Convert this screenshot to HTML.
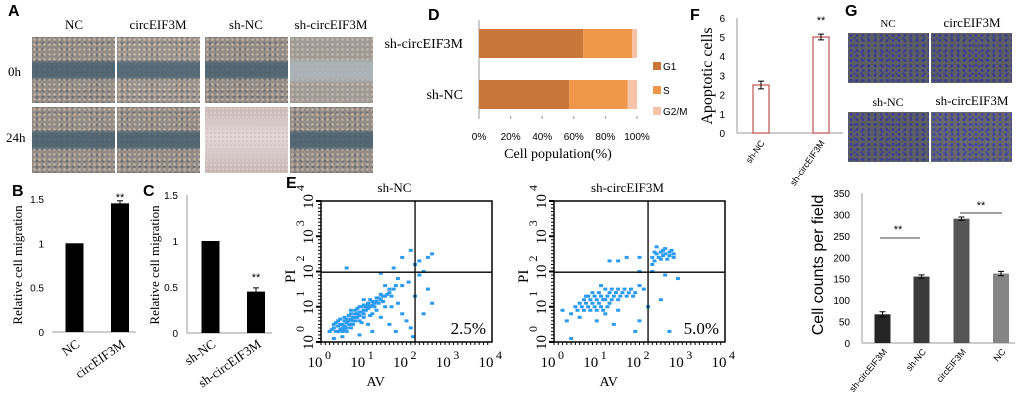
<!DOCTYPE html>
<html><head><meta charset="utf-8"><style>
body{margin:0;background:#fff;width:1020px;height:415px;overflow:hidden;position:relative;font-family:"Liberation Serif",serif}
.ph{position:absolute}
.w{background:
 linear-gradient(180deg,rgba(0,0,0,0) 0%,rgba(0,0,0,0) 34%,rgba(75,98,112,.9) 40%,rgba(75,98,112,.9) 60%,rgba(0,0,0,0) 66%),
 radial-gradient(circle,#c4b4a4 1px,transparent 1.6px) 0 0/5px 5px,
 radial-gradient(circle,#6e7074 1.2px,transparent 1.8px) 2px 3px/6px 6px,
 #948c86;}
.w2{background:
 radial-gradient(circle,#d8c8c6 1px,transparent 1.5px) 0 0/4px 4px,
 linear-gradient(180deg,#c8b6b4 0%,#e2d8dc 45%,#dcd0d4 60%,#c6b4b2 100%);}
.w3{background:
 linear-gradient(180deg,rgba(0,0,0,0) 0%,rgba(0,0,0,0) 30%,rgba(172,180,184,.92) 40%,rgba(172,180,184,.92) 62%,rgba(0,0,0,0) 72%),
 radial-gradient(circle,#c2b8ae 1px,transparent 1.6px) 0 0/5px 5px,
 #a09a94;}
.g{background:
 radial-gradient(circle,#3c3e8c 1.2px,transparent 1.8px) 0 0/6px 5px,
 radial-gradient(circle,#44468a 1px,transparent 1.6px) 3px 2px/7px 7px,
 #5d5f64;}
</style></head><body>
<svg id="s" width="1020" height="415" style="position:absolute;left:0;top:0"></svg>
<div class="ph w" style="left:32px;top:37px;width:83px;height:66px"></div>
<div class="ph w" style="left:117px;top:37px;width:83px;height:66px;filter:brightness(1.05)"></div>
<div class="ph w" style="left:205px;top:37px;width:83px;height:66px"></div>
<div class="ph w3" style="left:290px;top:37px;width:83px;height:66px"></div>
<div class="ph w" style="left:32px;top:107px;width:83px;height:66px"></div>
<div class="ph w" style="left:117px;top:107px;width:83px;height:66px"></div>
<div class="ph w2" style="left:205px;top:107px;width:83px;height:66px"></div>
<div class="ph w" style="left:290px;top:107px;width:83px;height:66px"></div>
<div class="ph g" style="left:848px;top:33px;width:81px;height:50px"></div>
<div class="ph g" style="left:931px;top:33px;width:81px;height:50px"></div>
<div class="ph g" style="left:848px;top:112px;width:81px;height:50px"></div>
<div class="ph g" style="left:931px;top:112px;width:81px;height:50px;filter:brightness(1.1)"></div>
<script>
// ---- data ----
const bCats=["NC","circEIF3M"], bVals=[1,1.45], bErr=[0,0.03];
const cCats=["sh-NC","sh-circEIF3M"], cVals=[1,0.45], cErr=[0,0.04];
const dCats=["sh-circEIF3M","sh-NC"], dG1=[66,57], dS=[31,37], dG2M=[3,6];
const fCats=["sh-NC","sh-circEIF3M"], fVals=[2.5,5.0], fErr=[0.2,0.15];
const hCats=["sh-circEIF3M","sh-NC","circEIF3M","NC"], hVals=[67,155,290,162], hErr=[6,4,4,5];
const eLeft=[[0.2,0.3],[0.3,0.4],[0.35,0.3],[0.4,0.45],[0.45,0.35],[0.5,0.5],[0.5,0.3],[0.55,0.6],[0.6,0.55],[0.6,0.4],[0.65,0.75],[0.7,0.65],[0.7,0.5],[0.75,0.7],[0.75,0.5],[0.8,0.8],[0.8,0.6],[0.85,0.7],[0.9,0.85],[0.9,0.6],[0.95,1.0],[1.0,0.9],[1.0,0.7],[1.05,1.0],[1.1,0.95],[1.1,1.1],[1.15,1.2],[1.2,1.05],[1.25,1.1],[1.3,1.15],[1.3,0.9],[1.35,1.25],[1.4,1.2],[1.45,1.3],[1.5,1.3],[1.5,1.0],[1.6,1.4],[1.7,1.5],[0.35,0.55],[0.55,0.45],[0.65,0.5],[0.85,0.95],[1.2,0.8],[1.8,1.1],[1.9,0.8],[2.0,0.6],[2.1,0.4],[1.6,0.5],[1.2,0.3],[0.9,0.2],[0.3,0.1],[1.5,1.6],[1.8,1.8],[1.7,2.1],[2.2,2.2],[2.3,2.3],[2.5,2.4],[2.6,2.5],[2.4,2.0],[2.3,1.9],[2.5,1.5],[2.6,1.1],[2.4,0.8],[1.4,1.95],[1.9,2.4],[2.1,2.6],[0.6,2.1],[2.2,1.3],[1.0,1.2],[0.7,0.9],[1.9,1.6],[2.05,1.7],[1.75,0.3],[2.15,0.15],[0.5,0.15],[1.1,0.5],
[0.25,0.35],[0.3,0.5],[0.4,0.3],[0.4,0.6],[0.45,0.5],[0.5,0.4],[0.55,0.35],[0.55,0.7],[0.6,0.65],[0.65,0.6],[0.7,0.8],[0.7,0.4],[0.75,0.6],[0.8,0.7],[0.8,0.9],[0.85,0.8],[0.9,0.75],[0.9,1.0],[0.95,0.85],[1.0,1.05],[1.0,0.8],[1.05,0.9],[1.1,1.05],[1.15,1.0],[1.2,1.15],[1.25,1.0],[1.3,1.25],[1.35,1.1],[1.4,1.35],[1.45,1.15],[1.55,1.35],[1.6,1.5],[1.65,1.3],[1.75,1.6],[0.45,0.65],[0.6,0.3],[0.95,0.55],[1.15,0.75],[1.4,0.7],[1.65,1.0]];
const eRight=[[0.4,0.8],[0.5,1.0],[0.6,1.1],[0.7,0.9],[0.7,1.2],[0.8,1.0],[0.8,1.3],[0.9,1.1],[0.9,1.4],[1.0,1.2],[1.0,0.9],[1.1,1.3],[1.1,1.0],[1.2,1.2],[1.2,1.5],[1.3,1.1],[1.3,1.4],[1.4,1.3],[1.5,1.2],[1.5,1.5],[1.6,1.4],[1.7,1.3],[1.8,1.5],[1.9,1.4],[2.0,1.6],[2.1,1.5],[0.6,0.7],[1.0,0.6],[1.2,0.8],[0.3,0.6],[0.2,0.9],[1.5,0.9],[1.4,0.5],[2.0,0.6],[2.2,1.0],[2.5,1.2],[1.9,0.3],[0.4,0.1],[2.3,2.4],[2.4,2.5],[2.5,2.35],[2.6,2.5],[2.7,2.45],[2.8,2.4],[2.4,2.7],[2.6,2.65],[2.3,2.2],[2.75,2.6],[2.5,2.55],[1.5,2.3],[1.7,2.4],[2.0,2.4],[1.3,2.3],[2.3,2.0],[2.6,1.9],[2.9,1.8],[2.0,2.0],[2.7,0.3],
[0.55,0.9],[0.65,1.0],[0.75,1.1],[0.85,1.2],[0.85,0.9],[0.95,1.3],[0.95,1.0],[1.05,1.1],[1.05,1.4],[1.15,1.2],[1.15,0.9],[1.25,1.3],[1.25,1.0],[1.35,1.2],[1.35,1.5],[1.45,1.4],[1.55,1.3],[1.65,1.5],[1.75,1.4],[1.85,1.3],[0.75,1.3],[1.1,1.6],[2.35,2.55],[2.45,2.4],[2.55,2.45],[2.65,2.35],[2.7,2.55],[2.35,2.3],[2.55,2.6],[2.8,2.5]];
// ---- helpers ----
const S=document.getElementById('s'),NS='http://www.w3.org/2000/svg';
function el(t,a,txt){const e=document.createElementNS(NS,t);for(const k in a)e.setAttribute(k,a[k]);if(txt!==undefined)e.textContent=txt;S.appendChild(e);return e;}
const SANS='"Liberation Sans",sans-serif',SER='"Liberation Serif",serif';
function label(x,y,t,name){const e=el('text',{x,y,'font-family':SANS,'font-weight':'bold','font-size':16},t);}
function txt(x,y,t,o){const a=Object.assign({x,y,'font-family':SER,'font-size':13},o||{});const e=el('text',a,t);return e;}
function rot(x,y,t,ang,o){const a=Object.assign({x:0,y:0,'font-family':SER,'font-size':13,transform:`translate(${x},${y}) rotate(${ang})`},o||{});const e=el('text',a,t);return e;}
function errbar(cx,y1,y2,c){const e=el('path',{d:`M${cx-3},${y1}H${cx+3}M${cx},${y1}V${y2}M${cx-3},${y2}H${cx+3}`,stroke:c||'#000','stroke-width':1,fill:'none'});}
// ---- A ----
label(8,16,'A','panel-a-label');
['NC','circEIF3M','sh-NC','sh-circEIF3M'].forEach((t,i)=>txt([74,158,246,331][i],29,t,{'text-anchor':'middle'}));
txt(8,76,'0h');txt(6,142,'24h');
// ---- B ----
label(12,196,'B','panel-b-label');
const bY=v=>332-v*88.7;
[0,0.5,1,1.5].forEach(v=>el('text',{x:44,y:bY(v)+4,'font-family':SANS,'font-size':10,'text-anchor':'end'},String(v)));
el('line',{x1:52,y1:332,x2:136,y2:332,stroke:'#999'});
const bX=[74.5,120];
bCats.forEach((c,i)=>{const r=el('rect',{x:bX[i]-9,y:bY(bVals[i]),width:18,height:332-bY(bVals[i]),fill:'#000'});
 if(bErr[i])errbar(bX[i],bY(bVals[i]+bErr[i]),bY(bVals[i]-bErr[i]));
 rot(bX[i]+6,346,c,-35,{'text-anchor':'end'});});
txt(bX[1],201,'**',{'text-anchor':'middle','font-size':11,'font-family':SANS});
rot(22,265,'Relative cell migration',-90,{'text-anchor':'middle'});
// ---- C ----
label(143,196,'C','panel-c-label');
const cY=v=>333-v*92;
[0,0.5,1,1.5].forEach(v=>el('text',{x:178,y:cY(v)+4,'font-family':SANS,'font-size':10,'text-anchor':'end'},String(v)));
el('line',{x1:187,y1:195,x2:187,y2:333,stroke:'#999'});el('line',{x1:187,y1:333,x2:272,y2:333,stroke:'#999'});
const cX=[210.5,256];
cCats.forEach((c,i)=>{const r=el('rect',{x:cX[i]-9,y:cY(cVals[i]),width:18,height:333-cY(cVals[i]),fill:'#000'});
 if(cErr[i])errbar(cX[i],cY(cVals[i]+cErr[i]),cY(cVals[i]-cErr[i]));
 rot(cX[i]+6,346,c,-35,{'text-anchor':'end'});});
txt(cX[1],281,'**',{'text-anchor':'middle','font-size':11,'font-family':SANS});
rot(159,265,'Relative cell migration',-90,{'text-anchor':'middle'});
// ---- D ----
label(428,20,'D','panel-d-label');
const dX=p=>479+p*1.58, dYs=[29,80];
el('line',{x1:479,y1:20,x2:479,y2:118,stroke:'#999'});
for(let p=0;p<=100;p+=20){el('line',{x1:dX(p),y1:116,x2:dX(p),y2:119,stroke:'#999'});el('text',{x:dX(p),y:140,'font-family':SANS,'font-size':10,'text-anchor':'middle'},p+'%');}
dCats.forEach((c,i)=>{let acc=0;[[dG1,'#c8763a'],[dS,'#f0964a'],[dG2M,'#f6c3a6']].forEach(([arr,col],j)=>{const r=el('rect',{x:dX(acc),y:dYs[i],width:arr[i]*1.58,height:29,fill:col});acc+=arr[i];});
 txt(463,dYs[i]+19,c,{'text-anchor':'end','font-size':14});});
[['G1','#c8763a',69],['S','#f0964a',93],['G2/M','#f6c3a6',114]].forEach(([t,c,y])=>{el('rect',{x:653,y:y-7,width:8,height:8,fill:c});el('text',{x:663,y:y+1,'font-family':SANS,'font-size':10},t);});
txt(558,158,'Cell population(%)',{'text-anchor':'middle','font-size':14});
// ---- F ----
label(690,20,'F','panel-f-label');
const fY=v=>133-v*19.2;
for(let v=0;v<=6;v++)el('text',{x:725,y:fY(v)+4,'font-family':SANS,'font-size':10,'text-anchor':'end'},String(v));
el('line',{x1:737,y1:18,x2:737,y2:133,stroke:'#999'});el('line',{x1:737,y1:133,x2:843,y2:133,stroke:'#999'});
const fX=[761,821];
fCats.forEach((c,i)=>{const r=el('rect',{x:fX[i]-8,y:fY(fVals[i]),width:16,height:133-fY(fVals[i]),fill:'#fff',stroke:'#c0504d','stroke-width':1.2});
 errbar(fX[i],fY(fVals[i]+fErr[i]),fY(fVals[i]-fErr[i]));
 rot(fX[i]+4,143,c,-55,{'text-anchor':'end','font-size':9,'font-family':SANS});});
txt(fX[1],24,'**',{'text-anchor':'middle','font-size':11,'font-family':SANS});
rot(712,76,'Apoptotic cells',-90,{'text-anchor':'middle','font-size':16});
// ---- G ----
label(845,16,'G','panel-g-label');
txt(888,27,'NC',{'text-anchor':'middle','font-size':11});txt(972,27,'circEIF3M',{'text-anchor':'middle','font-size':13});
txt(888,106,'sh-NC',{'text-anchor':'middle','font-size':12});txt(972,105,'sh-circEIF3M',{'text-anchor':'middle','font-size':13});
// ---- H ----
const hY=v=>343-v*150/350;
for(let v=0;v<=350;v+=50)el('text',{x:850,y:hY(v)+4,'font-family':SANS,'font-size':10,'text-anchor':'end'},String(v));
el('line',{x1:862,y1:193,x2:862,y2:343,stroke:'#999'});el('line',{x1:862,y1:343,x2:1015,y2:343,stroke:'#999'});
const hX=[882.5,921.5,961.5,1001], hCol=['#252525','#3b3b3b','#555','#858585'];
hCats.forEach((c,i)=>{const r=el('rect',{x:hX[i]-8,y:hY(hVals[i]),width:16,height:343-hY(hVals[i]),fill:hCol[i]});
 errbar(hX[i],hY(hVals[i]+hErr[i]),hY(hVals[i]-hErr[i]));
 rot(hX[i]+5,352,c,-50,{'text-anchor':'end','font-size':9,'font-family':SANS});});
el('line',{x1:880,y1:238,x2:920,y2:238,stroke:'#444'});el('line',{x1:960,y1:213,x2:1002,y2:213,stroke:'#444'});
txt(898,233,'**',{'text-anchor':'middle','font-size':11,'font-family':SANS});txt(981,209,'**',{'text-anchor':'middle','font-size':11,'font-family':SANS});
rot(823,265,'Cell counts per field',-90,{'text-anchor':'middle','font-size':16,'font-family':SANS});
// ---- E ----
label(286,188,'E','panel-e-label');
function flow(x0,pts,title,pct,name){
 const w=171,h=141,y0=201,px=l=>x0+l*w/4,py=l=>y0+h-l*h/4;
 const g=el('rect',{x:x0,y:y0,width:w,height:h,fill:'none',stroke:'#000','stroke-width':1.5});
 pts.forEach(p=>{const r=el('rect',{x:px(p[0])-2,y:py(p[1])-1.5,width:4,height:3,fill:'#2a9bf0'});});
 el('line',{x1:px(2.2),y1:y0,x2:px(2.2),y2:y0+h,stroke:'#000','stroke-width':1.3});
 el('line',{x1:x0,y1:py(1.98),x2:x0+w,y2:py(1.98),stroke:'#000','stroke-width':1.3});
 for(let i=0;i<=4;i++){
  el('text',{x:px(i)-6,y:367,'font-family':SER,'font-size':15,'text-anchor':'middle'},'10');
  el('text',{x:px(i)+4,y:359,'font-family':SER,'font-size':12},String(i));
  rot(x0-8,py(i)+8,'10',-90,{'font-size':15});rot(x0-17,py(i)-10,String(i),-90,{'font-size':12});
  el('line',{x1:x0-5,y1:py(i),x2:x0,y2:py(i),stroke:'#000','stroke-width':2});
 }
 for(let k=0;k<40;k++){el('line',{x1:x0+k*w/40,y1:y0+h,x2:x0+k*w/40,y2:y0+h+3,stroke:'#000'});el('line',{x1:x0-3,y1:y0+k*h/40,x2:x0,y2:y0+k*h/40,stroke:'#000'});}
 txt(x0+w/2-40,386,'AV',{'font-size':14});
 rot(x0-26,y0+82,'PI',-90,{'font-size':15});
 txt(x0+w/2-12,192,title,{'text-anchor':'middle','font-size':13});
 txt(x0+w-6,334,pct,{'text-anchor':'end','font-size':17});
}
flow(321,eLeft,'sh-NC','2.5%','flow-shnc');
flow(554,eRight,'sh-circEIF3M','5.0%','flow-shcirc');
</script>
</body></html>
